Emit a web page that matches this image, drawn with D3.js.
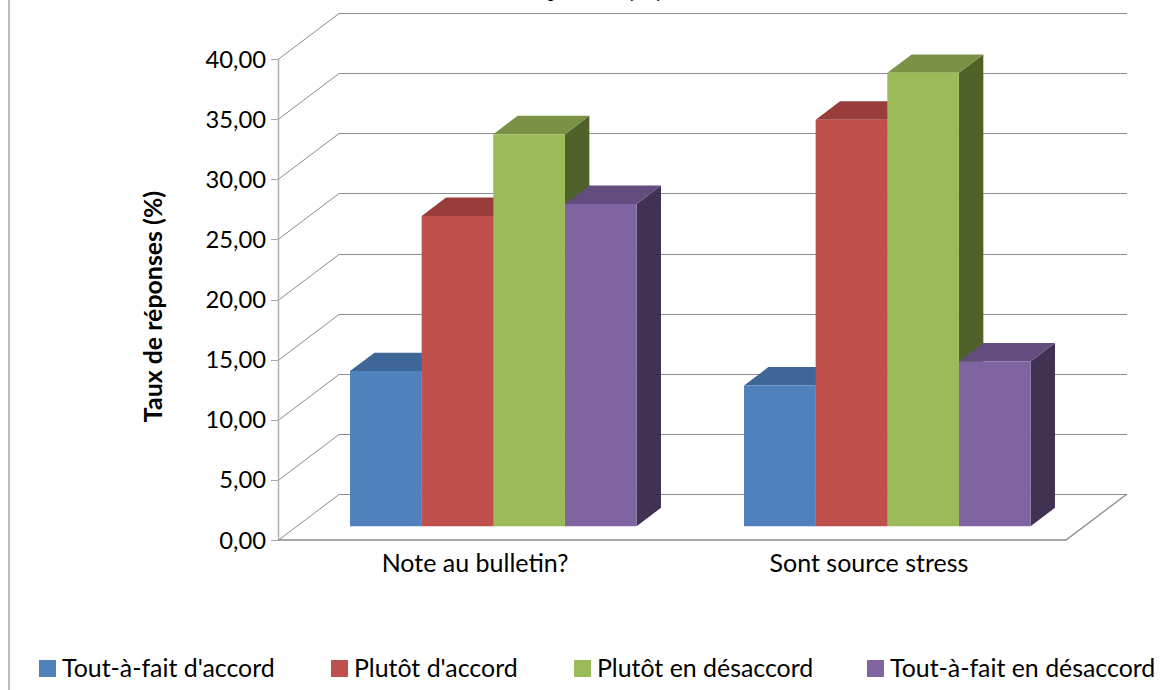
<!DOCTYPE html>
<html><head><meta charset="utf-8">
<script src="https://cdn.jsdelivr.net/npm/d3@7"></script>
<style>html,body{margin:0;padding:0;background:#fff;overflow:hidden}svg{display:block}text{font-family:Lato,Carlito,sans-serif;fill:#000}</style>
</head><body><div id="c"></div>
<script>
const categories = ["Note au bulletin?", "Sont source stress"];
const seriesNames = ["Tout-à-fait d'accord", "Plutôt d'accord", "Plutôt en désaccord", "Tout-à-fait en désaccord"];
const seriesColors = ["#4F81BD", "#C0504D", "#9BBB59", "#8064A2"];
const topColors = ["#3E6797", "#983D3A", "#7A9245", "#634D7F"];
const sideColors = ["#2F4E72", "#6E2D2B", "#4F6229", "#413253"];
const toutAFaitAccord = [12.9, 11.7];
const plutotAccord = [25.8, 33.8];
const plutotDesaccord = [32.6, 37.7];
const toutAFaitDesaccord = [26.8, 13.7];
const seriesValues = [toutAFaitAccord, plutotAccord, plutotDesaccord, toutAFaitDesaccord];
const yTicks = [0, 5, 10, 15, 20, 25, 30, 35, 40];
const legendTextX = [62, 354, 597, 890];

const W = 1169, H = 690;
const x0 = d3.scaleBand().domain(categories).range([278, 1066]);
const x1 = d3.scaleBand().domain(seriesNames).range([0, x0.bandwidth()]).paddingOuter(0.75).paddingInner(0);
const y = d3.scaleLinear().domain([0, 40]).range([540, 59]);
const depth = [61, -46], zFront = 0.3, zBack = 0.7;
const grid = "#8c8c8c";

const svg = d3.select("#c").append("svg").attr("width", W).attr("height", H);
svg.append("line").attr("x1", 9).attr("x2", 9).attr("y1", 0).attr("y2", H).attr("stroke", "#a6a6a6").attr("stroke-width", 1.5);

// Title (only its descenders show: the top is cut by the page edge)
const title = svg.append("text").attr("y", -3).attr("font-size", 26).attr("font-weight", 900);
title.append("tspan").attr("x", 553).attr("text-anchor","middle").text("j");
title.append("tspan").attr("x", 645).attr("text-anchor","middle").text("(%)");

// Walls
const wall = svg.append("g").attr("fill", "none").attr("stroke", grid).attr("stroke-width", 1);
yTicks.forEach(t => {
  const yy = Math.round(y(t)) + .5;
  wall.append("path").attr("d", d3.line()([[278, yy], [278 + depth[0], yy + depth[1]], [1066 + depth[0], yy + depth[1]]]));
  wall.append("line").attr("x1", 271).attr("x2", 278).attr("y1", yy).attr("y2", yy).attr("stroke", "#a6a6a6");
});
wall.append("line").attr("x1", 278.5).attr("x2", 278.5).attr("y1", y(40)).attr("y2", y(0)).attr("stroke", "#b0b0b0").attr("stroke-width", 1.5);
wall.append("path").attr("stroke-width", 1.3).attr("d", d3.line()([[278, y(0)], [1066, y(0)], [1066 + depth[0], y(0) + depth[1]]]));

// Bars
const bars = svg.append("g");
categories.forEach((c, ci) => {
  seriesNames.forEach((s, si) => {
    const v = seriesValues[si][ci];
    const l = x0(c) + x1(s) + depth[0] * zFront, r = l + x1.bandwidth();
    const dy0 = depth[1] * zFront, ddx = depth[0] * (zBack - zFront), ddy = depth[1] * (zBack - zFront);
    const b = y(0) + dy0, t = y(v) + dy0;
    const poly = p => "M" + p.map(q => q.join(",")).join("L") + "Z";
    bars.append("path").attr("fill", sideColors[si]).attr("d", poly([[r, t], [r + ddx, t + ddy], [r + ddx, b + ddy], [r, b]]));
    bars.append("path").attr("fill", topColors[si]).attr("d", poly([[l, t], [l + ddx, t + ddy], [r + ddx, t + ddy], [r, t]]));
    bars.append("path").attr("fill", seriesColors[si]).attr("d", poly([[l, t], [r, t], [r, b], [l, b]]));
  });
});

// Axis labels
svg.append("g").selectAll("text").data(yTicks).join("text")
  .attr("x", 266).attr("y", d => y(d) + 8.5).attr("text-anchor", "end").attr("font-size", 23.8)
  .text(d => d3.format(".2f")(d).replace(".", ","));
svg.append("g").selectAll("text").data(categories).join("text")
  .attr("x", d => x0(d) + x0.bandwidth() / 2).attr("y", 572).attr("text-anchor", "middle").attr("font-size", 25)
  .text(d => d);
svg.append("text").attr("transform", "translate(162,306.5) rotate(-90)").attr("text-anchor", "middle")
  .attr("font-size", 24.9).attr("font-weight", 700).text("Taux de réponses (%)");

// Legend
const lg = svg.append("g");
seriesNames.forEach((s, i) => {
  lg.append("rect").attr("x", legendTextX[i] - 23).attr("y", 660).attr("width", 17).attr("height", 17).attr("fill", seriesColors[i]);
  lg.append("text").attr("x", legendTextX[i]).attr("y", 677).attr("font-size", 24.9).text(s);
});
</script></body></html>
